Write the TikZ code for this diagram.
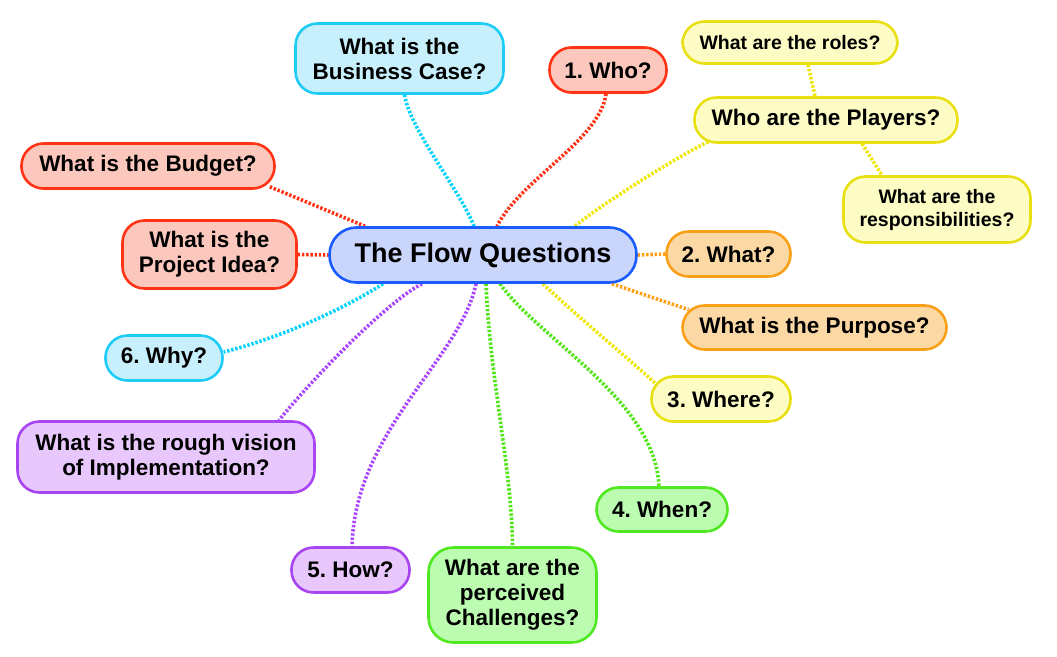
\documentclass[tikz,border=0pt]{standalone}
\usepackage{fontspec}
\setmainfont{Liberation Sans}
\usetikzlibrary{backgrounds}
\frenchspacing
\definecolor{cfill}{HTML}{C9D5FA}
\definecolor{cline}{HTML}{1A5CFF}
\definecolor{cyfill}{HTML}{C8F0FC}
\definecolor{cyline}{HTML}{1ECCF5}
\definecolor{cylink}{HTML}{00D2FF}
\definecolor{rfill}{HTML}{FCC8BE}
\definecolor{rline}{HTML}{FF3414}
\definecolor{rlink}{HTML}{FF3214}
\definecolor{yfill}{HTML}{FCFCC4}
\definecolor{yline}{HTML}{E8E012}
\definecolor{ylink}{HTML}{F0E600}
\definecolor{ofill}{HTML}{FCD8A4}
\definecolor{oline}{HTML}{F8A018}
\definecolor{olink}{HTML}{FFA014}
\definecolor{pfill}{HTML}{E8C8FC}
\definecolor{pline}{HTML}{A844F0}
\definecolor{plink}{HTML}{AA46FF}
\definecolor{gfill}{HTML}{BCFCB0}
\definecolor{gline}{HTML}{50E820}
\definecolor{glink}{HTML}{50E614}
\begin{document}
\begin{tikzpicture}[x=1pt,y=-1pt,
  box/.style={draw, line width=2.6pt, align=center, inner sep=0pt, rounded corners=22pt,
    font=\bfseries\fontsize{22.5}{25}\selectfont},
  smallbox/.style={box, font=\bfseries\fontsize{19.5}{23}\selectfont},
  cyb/.style={fill=cyfill, draw=cyline},
  rb/.style={fill=rfill, draw=rline},
  yb/.style={fill=yfill, draw=yline},
  ob/.style={fill=ofill, draw=oline},
  pb/.style={fill=pfill, draw=pline},
  gb/.style={fill=gfill, draw=gline},
  link/.style={line width=3.6pt, dash pattern=on 2.4pt off 1.8pt}
]
\useasboundingbox (0,0) rectangle (1057,656);
% central node
\node[box, fill=cfill, draw=cline, rounded corners=27pt, minimum width=307pt, minimum height=55pt,
  font=\bfseries\fontsize{27}{30}\selectfont] (c) at (483,255) {The Flow Questions};
% branches
\node[box, cyb, minimum width=208pt, minimum height=70pt] (bc) at (399.5,58.5) {What is the\\Business Case?};
\node[box, rb, minimum width=117pt, minimum height=45pt] (who) at (608,70) {1. Who?};
\node[smallbox, yb, minimum width=215pt, minimum height=42pt] (roles) at (790,42.5) {What are the roles?};
\node[box, yb, minimum width=263pt, minimum height=45pt] (pl) at (826,120) {Who are the Players?};
\node[smallbox, yb, minimum width=187pt, minimum height=66pt] (resp) at (937,209.5) {What are the\\responsibilities?};
\node[box, rb, minimum width=253pt, minimum height=45pt] (bu) at (148,166) {What is the Budget?};
\node[box, rb, minimum width=174pt, minimum height=68pt] (id) at (209.5,254.5) {What is the\\Project Idea?};
\node[box, ob, minimum width=124pt, minimum height=45pt] (wh) at (728.5,254) {2. What?};
\node[box, ob, minimum width=264pt, minimum height=44pt] (pu) at (814.5,327.5) {What is the Purpose?};
\node[box, cyb, minimum width=117pt, minimum height=45pt] (wy) at (164,358) {6. Why?};
\node[box, yb, minimum width=139pt, minimum height=45pt] (wr) at (721,399) {3. Where?};
\node[box, pb, minimum width=297pt, minimum height=71pt] (im) at (166,457) {What is the rough vision\\of Implementation?};
\node[box, gb, minimum width=131pt, minimum height=44pt] (wn) at (662,509.5) {4. When?};
\node[box, pb, minimum width=118pt, minimum height=45pt] (ho) at (350.5,570) {5. How?};
\node[box, gb, minimum width=168pt, minimum height=95pt, rounded corners=25pt] (ch) at (512.5,595) {What are the\\perceived\\Challenges?};
% connectors
\begin{scope}[on background layer]
\draw[link, cylink] ([xshift=5pt]bc.south) .. controls (410,130) and (460,190) .. ([xshift=-9pt]c.north);
\draw[link, rlink] ([xshift=-2pt]who.south) .. controls (600,140) and (520,180) .. ([xshift=14pt]c.north);
\draw[link, ylink] ([shift={(15pt,2pt)}]pl.south west) .. controls (680,155) and (600,205) .. ([xshift=92pt]c.north);
\draw[link, ylink] ([xshift=18pt]roles.south) -- ([xshift=-11pt]pl.north);
\draw[link, ylink] ([xshift=36pt]pl.south) -- ([xshift=-55pt]resp.north);
\draw[link, rlink] ([shift={(-6pt,3pt)}]bu.south east) -- ([xshift=-118pt]c.north);
\draw[link, rlink] (id.east) -- (c.west);
\draw[link, olink] (c.east) -- (wh.west);
\draw[link, olink] ([xshift=129pt]c.south) -- ([shift={(7.5pt,-5.5pt)}]pu.north west);
\draw[link, ylink] ([xshift=60pt]c.south) .. controls (570,310) and (630,360) .. ([shift={(4.5pt,-7.5pt)}]wr.north west);
\draw[link, glink] ([xshift=17pt]c.south) .. controls (540,340) and (655,400) .. ([xshift=-3pt]wn.north);
\draw[link, glink] ([xshift=3pt]c.south) .. controls (490,380) and (512,470) .. (ch.north);
\draw[link, plink] ([xshift=-7pt]c.south) .. controls (460,360) and (355,430) .. ([xshift=1.5pt]ho.north);
\draw[link, plink] ([xshift=-61pt]c.south) .. controls (390,300) and (320,370) .. ([xshift=113pt]im.north);
\draw[link, cylink] ([xshift=-100pt]c.south) .. controls (350,305) and (290,335) .. ([yshift=6pt]wy.east);
\end{scope}
\end{tikzpicture}
\end{document}
